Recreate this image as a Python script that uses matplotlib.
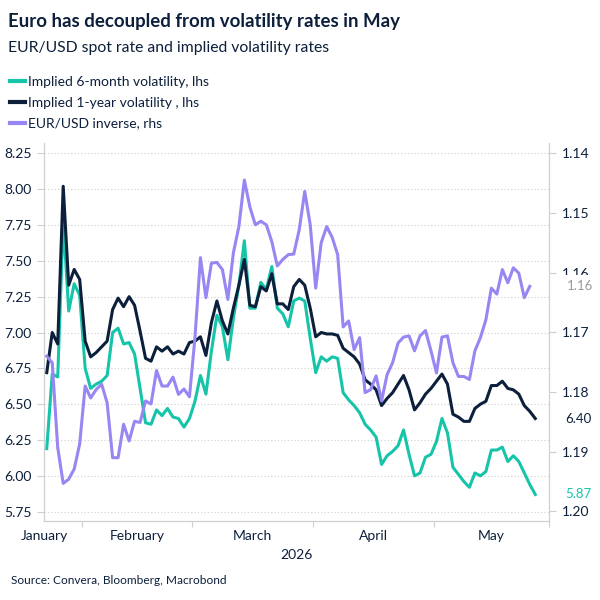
import matplotlib
matplotlib.use("Agg")
import matplotlib.pyplot as plt
import numpy as np
import pandas as pd

plt.rcParams['font.family'] = ['Lato', 'DejaVu Sans']

# business days shown on the axis (Macrobond style: one slot per trading day)
dates = pd.bdate_range('2026-01-22', '2026-05-29')

vol_6m = [6.19, 6.71, 6.69, 7.78, 7.15, 7.34, 7.26, 6.75, 6.61, 6.64,
          6.66, 6.70, 7.00, 7.03, 6.92, 6.93, 6.85, 6.61, 6.37, 6.36,
          6.46, 6.42, 6.47, 6.41, 6.40, 6.34, 6.40, 6.52, 6.70, 6.57,
          6.87, 7.12, 7.04, 6.81, 7.10, 7.33, 7.64, 7.17, 7.17, 7.35,
          7.30, 7.46, 7.17, 7.13, 7.04, 7.22, 7.24, 7.22, 6.96, 6.72,
          6.83, 6.80, 6.83, 6.82, 6.58, 6.53, 6.49, 6.44, 6.36, 6.32,
          6.27, 6.08, 6.14, 6.17, 6.21, 6.32, 6.15, 6.00, 6.02, 6.13,
          6.15, 6.24, 6.40, 6.30, 6.06, 6.01, 5.96, 5.92, 6.02, 6.00,
          6.03, 6.18, 6.18, 6.20, 6.10, 6.14, 6.10, 6.02, 5.94, 5.87]

vol_1y = [6.72, 7.00, 6.92, 8.02, 7.33, 7.44, 7.37, 6.94, 6.83, 6.86,
          6.90, 6.94, 7.16, 7.24, 7.18, 7.25, 7.19, 7.01, 6.82, 6.80,
          6.90, 6.87, 6.90, 6.85, 6.87, 6.85, 6.93, 6.94, 6.97, 6.84,
          7.07, 7.22, 7.08, 6.99, 7.17, 7.33, 7.51, 7.19, 7.18, 7.32,
          7.29, 7.41, 7.20, 7.20, 7.16, 7.32, 7.37, 7.33, 7.17, 6.97,
          7.00, 6.99, 6.99, 6.98, 6.89, 6.86, 6.83, 6.78, 6.67, 6.64,
          6.60, 6.49, 6.54, 6.58, 6.64, 6.70, 6.60, 6.46, 6.51, 6.57,
          6.61, 6.66, 6.71, 6.64, 6.43, 6.41, 6.38, 6.38, 6.47, 6.50,
          6.52, 6.63, 6.63, 6.66, 6.61, 6.60, 6.57, 6.49, 6.45, 6.40]

eurusd = [1.1740, 1.1751, 1.1893, 1.1953, 1.1946, 1.1929, 1.1887, 1.1790, 1.1810, 1.1796,
          1.1787, 1.1818, 1.1910, 1.1910, 1.1854, 1.1882, 1.1849, 1.1851, 1.1815, 1.1820,
          1.1764, 1.1790, 1.1790, 1.1775, 1.1804, 1.1795, 1.1808, 1.1709, 1.1575, 1.1642,
          1.1584, 1.1583, 1.1595, 1.1645, 1.1567, 1.1523, 1.1445, 1.1490, 1.1520, 1.1514,
          1.1520, 1.1548, 1.1589, 1.1578, 1.1570, 1.1569, 1.1528, 1.1464, 1.1520, 1.1626,
          1.1550, 1.1523, 1.1541, 1.1570, 1.1691, 1.1681, 1.1729, 1.1709, 1.1801, 1.1796,
          1.1773, 1.1815, 1.1771, 1.1751, 1.1718, 1.1708, 1.1706, 1.1731, 1.1706, 1.1697,
          1.1731, 1.1768, 1.1708, 1.1706, 1.1751, 1.1774, 1.1774, 1.1779, 1.1731, 1.1709,
          1.1679, 1.1626, 1.1636, 1.1595, 1.1617, 1.1592, 1.1601, 1.1642, 1.1623]

left_ticks = [5.75, 6.00, 6.25, 6.50, 6.75, 7.00, 7.25, 7.50, 7.75, 8.00, 8.25]
right_ticks = [1.14, 1.15, 1.16, 1.17, 1.18, 1.19, 1.20]

navy = '#0c1f3b'
teal = '#16c5a9'
purple = '#9886f3'
grey = '#cfcfcf'

fig = plt.figure(figsize=(6, 6), dpi=100)
ax = fig.add_axes([44/600, 79/600, 505/600, 378/600])
ax2 = ax.twinx()

x6 = np.arange(len(vol_6m)) + 0.5
x1 = np.arange(len(vol_1y)) + 0.5
xe = np.arange(len(eurusd)) + 0.5

l1, = ax.plot(x6, vol_6m, color=teal, lw=2.2, label='Implied 6-month volatility, lhs', solid_joinstyle='round')
l2, = ax.plot(x1, vol_1y, color=navy, lw=2.2, label='Implied 1-year volatility , lhs', solid_joinstyle='round')
l3, = ax2.plot(xe, eurusd, color=purple, lw=2.2, label='EUR/USD inverse, rhs', solid_joinstyle='round')

ax.set_xlim(0, len(dates))
ax.set_ylim(5.685, 8.322)
ax2.set_ylim(1.2016, 1.1383)

ax.set_yticks(left_ticks)
ax.set_yticklabels(['%.2f' % v for v in left_ticks])
ax2.set_yticks(right_ticks)
ax2.set_yticklabels(['%.2f' % v for v in right_ticks])
ax.grid(axis='y', color=grey, ls=(0, (1, 2)), lw=0.8)

# month boundaries and labels
months = dates.month
starts = [0] + [i for i in range(1, len(dates)) if months[i] != months[i - 1]] + [len(dates)]
ax.set_xticks(starts[1:])
ax.set_xticklabels([])
mids = [(a + b) / 2 for a, b in zip(starts[:-1], starts[1:])]
mids[0] = 0
names = [d.strftime('%B') for d in dates[starts[:-1]]]
for m, n in zip(mids, names):
    ax.text(m, -0.04, n, transform=ax.get_xaxis_transform(), ha='center', va='center',
            fontsize=10, color=navy)
ax.text(0.5, -0.09, '2026', transform=ax.transAxes, ha='center', va='center', fontsize=10, color=navy)

for a in (ax, ax2):
    a.spines['top'].set_visible(False)
    for s in ('left', 'right', 'bottom'):
        a.spines[s].set_color(grey)
    a.tick_params(colors=grey, labelcolor=navy, labelsize=10, length=5, width=0.8, pad=4)
ax.tick_params(axis='x', length=4)

# end labels
ax2.annotate('1.16', xy=(1.036, eurusd[-1]), xycoords=('axes fraction', 'data'), va='center', ha='left',
             fontsize=9.5, color='#9a9a9a', bbox=dict(fc='white', ec='none', pad=3.5))
ax2.annotate('%.2f' % vol_1y[-1], xy=(1.032, vol_1y[-1]), xycoords=('axes fraction', ax.transData), va='center',
             ha='left', fontsize=9.5, color=navy, bbox=dict(fc='white', ec='none', pad=1.5))
ax2.annotate('%.2f' % vol_6m[-1], xy=(1.032, vol_6m[-1]), xycoords=('axes fraction', ax.transData), va='center',
             ha='left', fontsize=9.5, color=teal, bbox=dict(fc='white', ec='none', pad=1.5))

fig.text(8/600, 1 - 22/600, 'Euro has decoupled from volatility rates in May', fontsize=13.4,
         fontweight='bold', color=navy, va='center', ha='left')
fig.text(8/600, 1 - 48/600, 'EUR/USD spot rate and implied volatility rates', fontsize=11.3,
         color=navy, va='center', ha='left')
fig.text(11/600, 1 - 581/600, 'Source: Convera, Bloomberg, Macrobond', fontsize=8.6,
         color=navy, va='center', ha='left')

leg = fig.legend(handles=[l1, l2, l3], loc='upper left', bbox_to_anchor=(6/600, 1 - 72/600),
                 frameon=False, fontsize=10, handlelength=1.1, handletextpad=0.15,
                 labelspacing=0.62, borderaxespad=0, borderpad=0.3)
for t in leg.get_texts():
    t.set_color(navy)
for h in leg.legend_handles:
    h.set_linewidth(3)

fig.savefig('out.png', dpi=100)
